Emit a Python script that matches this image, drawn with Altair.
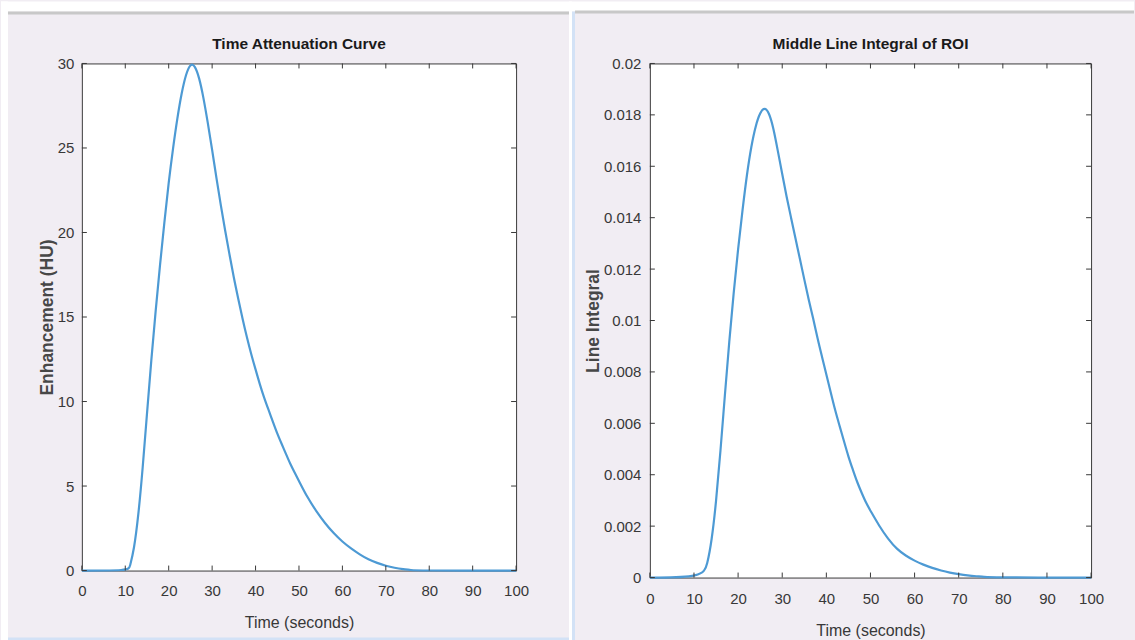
import altair as alt
import pandas as pd

# ---- data -----------------------------------------------------------------
# Time attenuation curve: enhancement (HU) over time (s)
TAC_T = [0, 10.8, 11, 12, 13, 14, 15, 16, 17, 18, 19, 20, 21, 22, 23, 24, 25,
         26, 27, 28, 29, 30, 31, 32, 33, 34, 35, 36, 37, 38, 39, 40, 41, 42,
         43, 44, 45, 46, 47, 48, 49, 50, 52, 54, 56, 58, 60, 62, 64, 66, 68,
         70, 72, 74, 76, 76.5, 100]
TAC_HU = [0, 0, 0.2, 1.2, 3.2, 6.0, 9.3, 12.5, 15.4, 18.1, 20.6, 23.0, 25.0,
          26.8, 28.3, 29.4, 30.0, 29.9, 29.2, 28.0, 26.5, 24.9, 23.2, 21.6,
          20.1, 18.7, 17.3, 16.1, 14.9, 13.8, 12.8, 11.9, 11.0, 10.2, 9.5, 8.8,
          8.1, 7.5, 6.9, 6.3, 5.8, 5.3, 4.3, 3.5, 2.8, 2.2, 1.7, 1.3, 0.95,
          0.65, 0.45, 0.28, 0.16, 0.08, 0.03, 0, 0]

# Middle line integral of the ROI over time (s)
ROI_T = [0, 12, 13, 14, 15, 16, 17, 18, 19, 20, 21, 22, 23, 24, 25, 26, 27,
         28, 29, 30, 31, 32, 33, 34, 35, 36, 37, 38, 39, 40, 41, 42, 43, 44,
         45, 46, 47, 48, 49, 50, 52, 54, 56, 58, 60, 62, 64, 66, 68, 70, 72,
         74, 76, 76.5, 100]
ROI_LI = [0, 0, 0.0005, 0.0014, 0.0029, 0.0049, 0.0071, 0.0092, 0.0111,
          0.0128, 0.0143, 0.0157, 0.0168, 0.0176, 0.0181, 0.0183, 0.0181,
          0.0175, 0.0166, 0.0157, 0.0148, 0.0140, 0.0132, 0.0124, 0.0116,
          0.0108, 0.0101, 0.0093, 0.0086, 0.0079, 0.0072, 0.0065, 0.0059,
          0.0053, 0.0047, 0.0042, 0.0037, 0.0033, 0.0029, 0.0026, 0.0020,
          0.0015, 0.0011, 0.00085, 0.00065, 0.0005, 0.00037, 0.00027, 0.00019,
          0.00013, 0.00008, 0.00005, 0.00003, 0, 0]

X_TICKS = [0, 10, 20, 30, 40, 50, 60, 70, 80, 90, 100]
HU_TICKS = [0, 5, 10, 15, 20, 25, 30]
LI_TICKS = [0, 0.002, 0.004, 0.006, 0.008, 0.01, 0.012, 0.014, 0.016, 0.018,
            0.02]

TITLES = ["Time Attenuation Curve", "Middle Line Integral of ROI"]
Y_TITLES = ["Enhancement (HU)", "Line Integral"]
X_TITLE = "Time (seconds)"

# ---- styling --------------------------------------------------------------
FONT = "'Liberation Sans', Arial, sans-serif"
BLUE = "#4d9ad4"
INK = "#383838"
FIG_BG = "#f1edf3"
EDGE_GRAY = "#c8c8c8"
EDGE_BLUE = "#d3e2f6"
TICK_LEN = 5


def band(x0, x1, y0, y1, color):
    """A flat strip of the figure frame, placed in pixels."""
    return alt.Chart(alt.Data(values=[{}])).mark_rect(color=color).encode(
        x=alt.value(x0), x2=alt.value(x1), y=alt.value(y0), y2=alt.value(y1)
    )


def panel(t, v, y_ticks, y_fmt, title, y_title, w, h,
          y_title_x, x_title_y, x_label_pad, y_label_pad, extra=()):
    df = pd.DataFrame({"t": t, "v": v})
    xs = alt.Scale(domain=[0, 100], nice=False, zero=False)
    ys = alt.Scale(domain=[y_ticks[0], y_ticks[-1]], nice=False, zero=False)

    x_axis = alt.Axis(
        values=X_TICKS, title=X_TITLE, grid=False, domain=False, ticks=False,
        tickSize=0, labelFont=FONT, labelFontSize=15, labelColor=INK,
        labelPadding=x_label_pad, labelBaseline="middle", labelFlush=False,
        labelOverlap=False, titleFont=FONT, titleFontSize=16,
        titleFontWeight="normal", titleColor=INK, titleX=w / 2,
        titleY=x_title_y, titleBaseline="middle", titleAlign="center",
    )
    y_axis = alt.Axis(
        values=y_ticks, format=y_fmt, title=y_title, grid=False, domain=False,
        ticks=False, tickSize=0, labelFont=FONT, labelFontSize=15,
        labelColor=INK, labelPadding=y_label_pad, labelFlush=False,
        labelOverlap=False, titleFont=FONT, titleFontSize=17.5,
        titleFontWeight="bold", titleColor="#474747", titleX=y_title_x,
        titleY=h / 2, titleBaseline="middle", titleAlign="center",
        titleAngle=270,
    )

    curve = alt.Chart(df).mark_line(
        color=BLUE, strokeWidth=2.2, interpolate="basis"
    ).encode(
        x=alt.X("t:Q", scale=xs, axis=x_axis),
        y=alt.Y("v:Q", scale=ys, axis=y_axis),
    )

    xt = pd.DataFrame({"t": X_TICKS})
    yt = pd.DataFrame({"v": y_ticks})
    tick_x = alt.X("t:Q", scale=xs)
    tick_y = alt.Y("v:Q", scale=ys)
    ticks = [
        alt.Chart(xt).mark_rule(color=INK).encode(
            x=tick_x, y=alt.value(h), y2=alt.value(h - TICK_LEN)),
        alt.Chart(xt).mark_rule(color=INK).encode(
            x=tick_x, y=alt.value(0), y2=alt.value(TICK_LEN)),
        alt.Chart(yt).mark_rule(color=INK).encode(
            y=tick_y, x=alt.value(0), x2=alt.value(TICK_LEN)),
        alt.Chart(yt).mark_rule(color=INK).encode(
            y=tick_y, x=alt.value(w), x2=alt.value(w - TICK_LEN)),
    ]

    heading = alt.Chart(pd.DataFrame({"label": [title]})).mark_text(
        font=FONT, fontSize=15.5, fontWeight="bold", color="#1a1a1a",
        align="center", baseline="middle",
    ).encode(text="label:N", x=alt.value(w / 2), y=alt.value(-19))

    return alt.layer(*extra, curve, *ticks, heading).properties(
        width=w, height=h
    )


# Frame of the figure, in pixels relative to the first plot's corner
frame = [
    band(-81, 1054, -62, -52, "white"),
    band(-81, -74, -62, 578, "white"),
    band(-74, 488, -52, -49, EDGE_GRAY),
    band(494, 1054, -53, -50, EDGE_GRAY),
    band(488, 491, -62, 578, "white"),
    band(491, 494, -52, 578, EDGE_BLUE),
    band(-74, 488, 575, 578, EDGE_BLUE),
]

left = panel(TAC_T, TAC_HU, HU_TICKS, "~f", TITLES[0], Y_TITLES[0],
             435, 508, y_title_x=-34, x_title_y=52, x_label_pad=20,
             y_label_pad=8, extra=frame)
right = panel(ROI_T, ROI_LI, LI_TICKS, "~f", TITLES[1], Y_TITLES[1],
              442, 515, y_title_x=-56, x_title_y=53, x_label_pad=21,
              y_label_pad=9)

chart = alt.hconcat(left, right, spacing=134, bounds="flush").properties(
    background=FIG_BG, padding=0,
).configure_view(fill="white", stroke="#3a3a3a", strokeWidth=1)

chart.save("out.html", embed_options={"renderer": "svg", "actions": False})
